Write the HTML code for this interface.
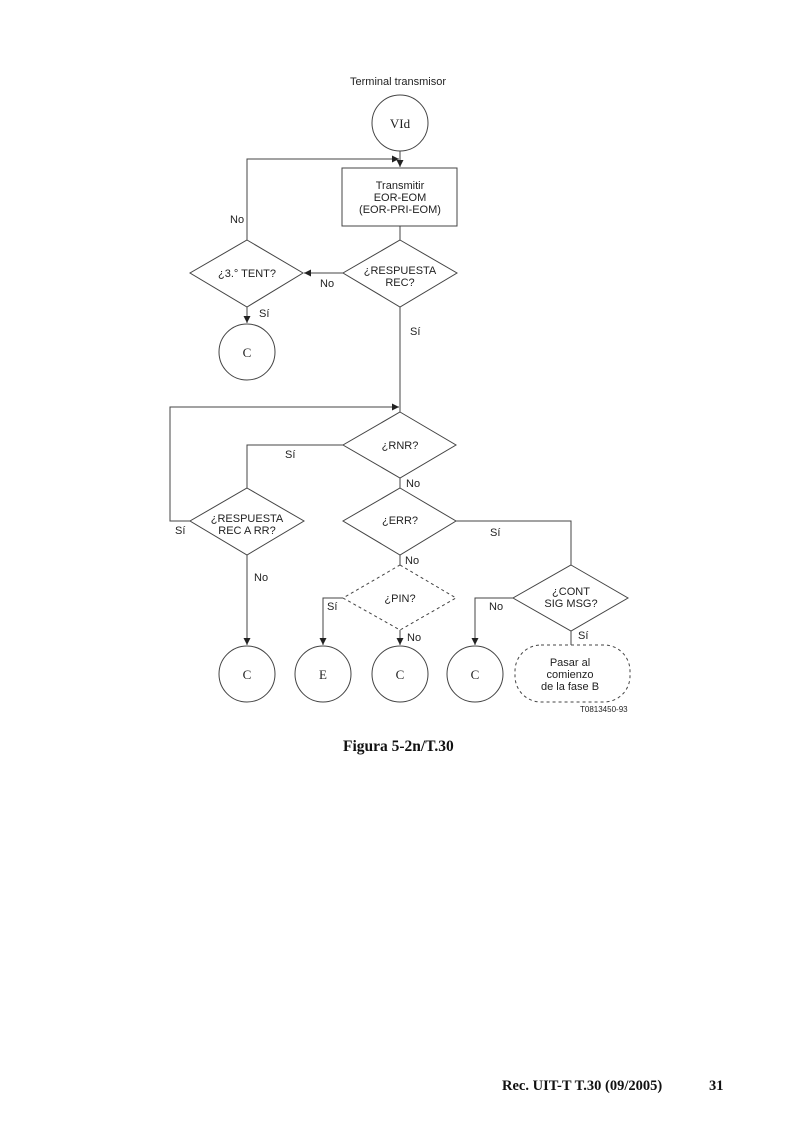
<!DOCTYPE html>
<html><head><meta charset="utf-8"><style>
html,body{margin:0;padding:0;background:#fff;}
svg{display:block;}
.s{font-family:"Liberation Sans",sans-serif;font-size:11px;fill:#222;}
.r{font-family:"Liberation Serif",serif;font-size:13px;fill:#222;}
</style></head><body>
<svg width="800" height="1132" viewBox="0 0 800 1132" xmlns="http://www.w3.org/2000/svg">
<defs><marker id="a" markerWidth="8" markerHeight="8" refX="7" refY="4" orient="auto" markerUnits="userSpaceOnUse"><path d="M0,0.5 L7,4 L0,7.5z" fill="#222"/></marker></defs>
<g stroke="#444" stroke-width="1" fill="none">
<circle cx="400" cy="123" r="28"/>
<line x1="400" y1="151" x2="400" y2="167" marker-end="url(#a)"/>
<polyline points="247,240 247,159 399,159" marker-end="url(#a)"/>
<rect x="342" y="168" width="115" height="58"/>
<line x1="400" y1="226" x2="400" y2="240"/>
<polygon points="400,240 457,273 400,307 343,273"/>
<polygon points="247,240 303,273 247,307 190,273"/>
<line x1="343" y1="273" x2="304" y2="273" marker-end="url(#a)"/>
<line x1="247" y1="307" x2="247" y2="323" marker-end="url(#a)"/>
<circle cx="247" cy="352" r="28"/>
<line x1="400" y1="307" x2="400" y2="412"/>
<polyline points="190,521 170,521 170,407 399,407" marker-end="url(#a)"/>
<polygon points="400,412 456,445 400,478 343,445"/>
<polyline points="343,445 247,445 247,488"/>
<polygon points="247,488 304,521 247,555 190,521"/>
<line x1="400" y1="478" x2="400" y2="488"/>
<polygon points="400,488 456,521 400,555 343,521"/>
<polyline points="456,521 571,521 571,565"/>
<polygon points="571,565 628,598 571,631 513,598"/>
<polyline points="513,598 475,598 475,645" marker-end="url(#a)"/>
<circle cx="475" cy="674" r="28"/>
<line x1="571" y1="631" x2="571" y2="645"/>
<rect x="515" y="645" width="115" height="57" rx="26" stroke-dasharray="3,3"/>
<line x1="400" y1="555" x2="400" y2="565"/>
<polygon points="400,565 456,598 400,630 343,598" stroke-dasharray="3,3"/>
<polyline points="343,598 323,598 323,645" marker-end="url(#a)"/>
<line x1="400" y1="630" x2="400" y2="645" marker-end="url(#a)"/>
<line x1="247" y1="555" x2="247" y2="645" marker-end="url(#a)"/>
<circle cx="247" cy="674" r="28"/>
<circle cx="323" cy="674" r="28"/>
<circle cx="400" cy="674" r="28"/>
</g>
<g class="s" text-anchor="middle">
<text x="398" y="85">Terminal transmisor</text>
<text x="400" y="189">Transmitir</text>
<text x="400" y="201">EOR-EOM</text>
<text x="400" y="213">(EOR-PRI-EOM)</text>
<text x="400" y="274">¿RESPUESTA</text>
<text x="400" y="286">REC?</text>
<text x="247" y="277">¿3.° TENT?</text>
<text x="400" y="449">¿RNR?</text>
<text x="247" y="522">¿RESPUESTA</text>
<text x="247" y="534">REC A RR?</text>
<text x="400" y="524">¿ERR?</text>
<text x="400" y="602">¿PIN?</text>
<text x="571" y="595">¿CONT</text>
<text x="571" y="607">SIG MSG?</text>
<text x="570" y="666">Pasar al</text>
<text x="570" y="678">comienzo</text>
<text x="570" y="690">de la fase B</text>
</g>
<g class="s">
<text x="230" y="223">No</text>
<text x="320" y="287">No</text>
<text x="259" y="317">Sí</text>
<text x="410" y="335">Sí</text>
<text x="285" y="458">Sí</text>
<text x="406" y="487">No</text>
<text x="175" y="534">Sí</text>
<text x="490" y="536">Sí</text>
<text x="254" y="581">No</text>
<text x="405" y="564">No</text>
<text x="327" y="610">Sí</text>
<text x="489" y="610">No</text>
<text x="407" y="641">No</text>
<text x="578" y="639">Sí</text>
<text x="580" y="712" style="font-size:8px">T0813450-93</text>
</g>
<text x="343" y="751" style="font-family:'Liberation Serif',serif;font-weight:bold;font-size:15.5px" fill="#111">Figura 5-2n/T.30</text>
<text x="502" y="1090" style="font-family:'Liberation Serif',serif;font-weight:bold;font-size:14.5px" fill="#111">Rec. UIT-T T.30 (09/2005)</text>
<text x="709" y="1090" style="font-family:'Liberation Serif',serif;font-weight:bold;font-size:14.5px" fill="#111">31</text>
<g class="r" text-anchor="middle">
<text x="400" y="128">VId</text>
<text x="247" y="357">C</text>
<text x="247" y="679">C</text>
<text x="323" y="679">E</text>
<text x="400" y="679">C</text>
<text x="475" y="679">C</text>
</g>
</svg>
</body></html>
